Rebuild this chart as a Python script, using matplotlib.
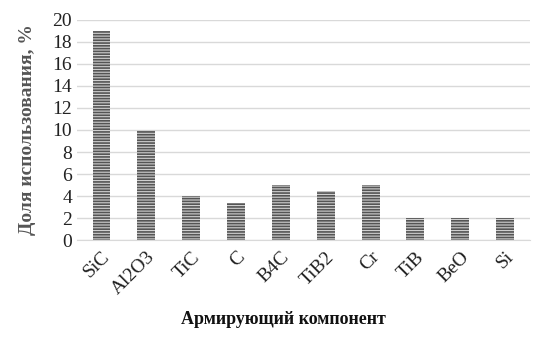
import matplotlib.pyplot as plt
import numpy as np

categories = ["SiC", "Al2O3", "TiC", "C", "B4C", "TiB2", "Cr", "TiB", "BeO", "Si"]
values = [19, 10, 4, 3.4, 5, 4.5, 5, 2, 2, 2]

plt.rcParams['font.family'] = ['Liberation Serif', 'DejaVu Serif']
plt.rcParams['hatch.color'] = '#333333'
plt.rcParams['hatch.linewidth'] = 1.2

fig = plt.figure(figsize=(5.45, 3.43), dpi=100)
ax = fig.add_axes([0.141, 0.30, 0.831, 0.642])

x = np.arange(len(categories))
ax.bar(x, values, width=0.4, color='#d0d0d0', edgecolor='#555555',
       hatch='------', linewidth=0, zorder=3)

ax.set_ylim(0, 20)
ax.set_yticks(range(0, 21, 2))
ax.set_xlim(-0.55, len(categories) - 0.45)
ax.set_xticks(x)
ax.set_xticklabels(categories, rotation=45, ha='right', rotation_mode='anchor')
ax.tick_params(axis='both', length=0, labelsize=14, colors='#222222')
ax.tick_params(axis='x', pad=6)
ax.grid(axis='y', color='#d9d9d9', linewidth=1, zorder=0)
for s in ['top', 'right', 'left']:
    ax.spines[s].set_visible(False)
ax.spines['bottom'].set_color('#d9d9d9')

ax.set_ylabel("Доля использования, %", fontsize=14, fontweight='bold',
              color='#555555', labelpad=12)
fig.text(0.52, 0.055, "Армирующий компонент", ha='center', fontsize=13,
         fontweight='bold', color='#111111')

fig.savefig("out.png", dpi=100)
